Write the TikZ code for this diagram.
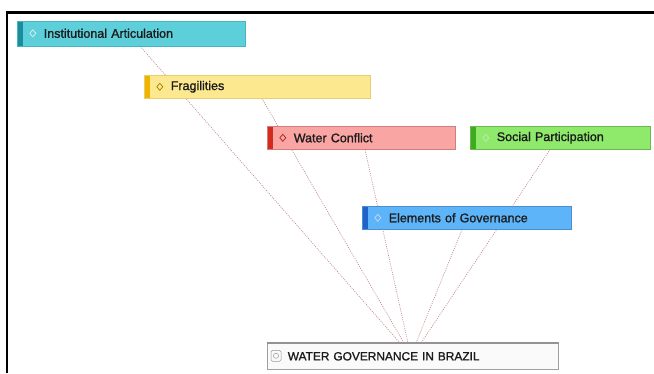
\documentclass[tikz,border=0pt]{standalone}
\usepackage{fontspec}
\setmainfont{Liberation Sans}[FakeBold=1.2]
\usetikzlibrary{backgrounds}
\definecolor{iafill}{HTML}{5CCFDA}\definecolor{iastrip}{HTML}{1A8C9A}\definecolor{iadraw}{HTML}{45B5C2}
\definecolor{frfill}{HTML}{FCE88E}\definecolor{frstrip}{HTML}{F0B400}\definecolor{frdraw}{HTML}{E6CE72}
\definecolor{wcfill}{HTML}{F9A5A3}\definecolor{wcstrip}{HTML}{D42A1E}\definecolor{wcdraw}{HTML}{CF7F7D}
\definecolor{spfill}{HTML}{8FEA6C}\definecolor{spstrip}{HTML}{3DAA20}\definecolor{spdraw}{HTML}{6CB855}
\definecolor{egfill}{HTML}{5DB4F8}\definecolor{egstrip}{HTML}{1E64C8}\definecolor{egdraw}{HTML}{4A8ED0}
\definecolor{linkcol}{HTML}{C48C8C}
\definecolor{txtcol}{HTML}{1C1C1C}
\tikzset{
  cat/.style n args={5}{draw=#3, fill=#1, line width=0.6pt, anchor=north west,
    minimum height=23pt, text width=#4-53pt, inner xsep=26.5pt, inner ysep=0pt,
    align=left, font=\fontsize{12.5}{14}\selectfont, text=txtcol,
    path picture={
      \fill[#2] (path picture bounding box.north west) rectangle ([xshift=6pt]path picture bounding box.south west);
      \draw[#5, line width=0.7pt] ([xshift=15.5pt]path picture bounding box.west) +(0,3.5) -- +(3,0) -- +(0,-3.5) -- +(-3,0) -- cycle;
    }},
  link/.style={draw=linkcol, line width=0.7pt, dash pattern=on 1pt off 1.2pt},
  framebar/.style={line width=2.2pt, black}
}
\begin{document}
\begin{tikzpicture}[x=1pt,y=-1pt]
\useasboundingbox (0,0) rectangle (654,373);
\draw[framebar] (7,373) -- (7,12.5) -- (654,12.5);

\node[cat={iafill}{iastrip}{iadraw}{228pt}{white!85!iastrip}, minimum height=25pt] (ia) at (17,20.5) {Institutional Articulation};
\node[cat={frfill}{frstrip}{frdraw}{226pt}{frstrip!70!black}] (fr) at (144,75) {Fragilities};
\node[cat={wcfill}{wcstrip}{wcdraw}{188pt}{wcstrip!80!black}] (wc) at (267,126) {Water Conflict};
\node[cat={spfill}{spstrip}{spdraw}{180pt}{white!70!spstrip}] (sp) at (470,126) {Social Participation};
\node[cat={egfill}{egstrip}{egdraw}{209pt}{white!75!egstrip}] (eg) at (362,206) {Elements of Governance};

\node[draw=gray!75, fill=gray!4, line width=0.6pt, anchor=north west, minimum height=26pt,
  text width=291pt-31pt, inner xsep=15.5pt, inner ysep=0pt, align=left,
  font=\fontsize{11.9}{13}\selectfont, text=txtcol] (wg) at (267,343) {\hspace{5pt}WATER GOVERNANCE IN BRAZIL};
\draw[gray!85, line width=1.2pt] (wg.north west) -- (wg.north east);
\draw[gray!80, line width=0.5pt, rounded corners=1.5pt] ([xshift=4pt,yshift=-5pt]wg.west) rectangle ([xshift=14pt,yshift=6pt]wg.west);
\draw[gray!80, line width=0.5pt] ([xshift=9pt,yshift=0.5pt]wg.west) circle (2.6pt);

\coordinate (ia-o) at ([xshift=123pt]ia.south west);
\coordinate (fr-o) at ([xshift=118pt]fr.south west);
\coordinate (wc-o) at ([xshift=98pt]wc.south west);
\coordinate (eg-o) at ([xshift=100pt]eg.south west);
\coordinate (sp-o) at ([xshift=80pt]sp.south west);
\coordinate (wg-1) at ([xshift=133pt]wg.north west);
\coordinate (wg-2) at ([xshift=137pt]wg.north west);
\coordinate (wg-3) at ([xshift=141pt]wg.north west);
\coordinate (wg-4) at ([xshift=149pt]wg.north west);
\coordinate (wg-5) at ([xshift=154pt]wg.north west);

\begin{pgfonlayer}{background}
\draw[link] (ia-o) -- (wg-1);
\draw[link] (fr-o) -- (wg-2);
\draw[link] (wc-o) -- (wg-3);
\draw[link] (eg-o) -- (wg-4);
\draw[link] (sp-o) -- (wg-5);
\end{pgfonlayer}
\end{tikzpicture}
\end{document}
